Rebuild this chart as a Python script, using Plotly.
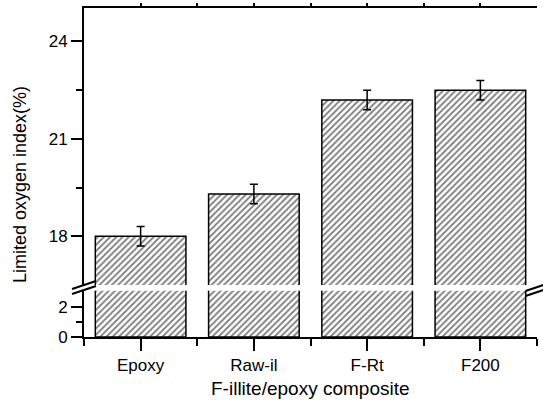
import plotly.graph_objects as go

categories = ["Epoxy", "Raw-il", "F-Rt", "F200"]
loi_values = [18.0, 19.3, 22.2, 22.5]
loi_errors = [0.3, 0.3, 0.3, 0.3]
x_pos = [0, 1, 2, 3]
upper_ticks = [18, 21, 24]
lower_ticks = [0, 2]

W, H = 543, 402
ML, MR, MT, MB = 84, 6, 8, 65
PW, PH = W - ML - MR, H - MT - MB

def px_x(px):
    return (px - ML) / PW

def px_y(py):
    return (H - MB - py) / PH

FONT = "Arial, Liberation Sans, sans-serif"

bar_style = dict(
    color="white",
    line=dict(color="black", width=1.5),
    pattern=dict(shape="/", fgcolor="black", bgcolor="white", size=4.4, solidity=0.42),
)

fig = go.Figure()
# lower segment
fig.add_trace(go.Bar(x=x_pos, y=loi_values, width=0.8, marker=bar_style,
                     xaxis="x", yaxis="y", showlegend=False))
# upper segment
fig.add_trace(go.Bar(x=x_pos, y=loi_values, width=0.8, marker=bar_style,
                     error_y=dict(type="data", array=loi_errors, color="black",
                                  thickness=1.5, width=4),
                     xaxis="x2", yaxis="y2", showlegend=False))

ax_common = dict(showgrid=False, zeroline=False, showline=True, linecolor="black",
                 linewidth=2, tickcolor="black", tickwidth=2,
                 tickfont=dict(family=FONT, size=17, color="black"))

lower_dom = [0, px_y(290.7)]
upper_dom = [px_y(285), 1]

fig.update_layout(
    width=W, height=H, margin=dict(l=ML, r=MR, t=MT, b=MB),
    paper_bgcolor="white", plot_bgcolor="white", bargap=0.2,
    xaxis=dict(**ax_common, domain=[0, 1], anchor="y", range=[-0.5, 3.5],
               tickmode="array", tickvals=x_pos, ticktext=categories,
               ticks="outside", ticklen=12,
               minor=dict(tickmode="array", tickvals=[-0.5, 0.5, 1.5, 2.5, 3.5],
                          ticks="outside", ticklen=7, tickwidth=2, tickcolor="black")),
    xaxis2=dict(**ax_common, domain=[0, 1], anchor="y2", range=[-0.5, 3.5],
                side="top", tickmode="array", tickvals=x_pos, showticklabels=False,
                ticks="outside", ticklen=3,
                minor=dict(tickmode="array", tickvals=[0.5, 1.5, 2.5],
                           ticks="outside", ticklen=3, tickwidth=2, tickcolor="black")),
    yaxis=dict(**ax_common, domain=lower_dom, anchor="x", range=[0, 3.06],
               tickmode="array", tickvals=lower_ticks, ticks="outside", ticklen=11,
               minor=dict(tickmode="array", tickvals=[1], ticks="outside",
                          ticklen=6, tickwidth=2, tickcolor="black")),
    yaxis2=dict(**ax_common, domain=upper_dom, anchor="x2", range=[16.5, 25.03],
                tickmode="array", tickvals=upper_ticks, ticks="outside", ticklen=11,
                minor=dict(tickmode="array", tickvals=[19.5, 22.5], ticks="outside",
                           ticklen=6, tickwidth=2, tickcolor="black")),
    yaxis3=dict(**ax_common, overlaying="y", side="right", anchor="x", range=[0, 3.06],
                tickmode="array", tickvals=lower_ticks, showticklabels=False,
                ticks="outside", ticklen=4,
                minor=dict(tickmode="array", tickvals=[1], ticks="outside",
                           ticklen=3, tickwidth=2, tickcolor="black")),
    yaxis4=dict(**ax_common, overlaying="y2", side="right", anchor="x2", range=[16.5, 25.03],
                tickmode="array", tickvals=upper_ticks, showticklabels=False,
                ticks="outside", ticklen=4,
                minor=dict(tickmode="array", tickvals=[19.5, 22.5], ticks="outside",
                           ticklen=3, tickwidth=2, tickcolor="black")),
)

# axis titles
fig.add_annotation(text="F-illite/epoxy composite", xref="paper", yref="paper",
                   x=0.5, y=px_y(389), xanchor="center", yanchor="middle",
                   showarrow=False, font=dict(family=FONT, size=19, color="black"))
fig.add_annotation(text="Limited oxygen index(%)", xref="paper", yref="paper",
                   x=px_x(20), y=px_y(185), xanchor="center", yanchor="middle",
                   textangle=-90, showarrow=False,
                   font=dict(family=FONT, size=18, color="black"))

# axis-break marks
def break_marks(cx, cy):
    for dy in (-2.5, 2.5):
        fig.add_shape(type="line", xref="paper", yref="paper",
                      x0=px_x(cx - 12), y0=px_y(cy + dy + 4),
                      x1=px_x(cx + 12), y1=px_y(cy + dy - 4),
                      line=dict(color="black", width=2))

break_marks(84, 287.5)
break_marks(537.5, 289.5)

fig.write_html("out.html", config={"displayModeBar": False})

# remove the default page margin so the figure sits at the window's corner
with open("out.html", "r", encoding="utf-8") as f:
    html = f.read()
html = html.replace("<head>", "<head><style>html,body{margin:0;padding:0;overflow:hidden;}</style>", 1)
with open("out.html", "w", encoding="utf-8") as f:
    f.write(html)
